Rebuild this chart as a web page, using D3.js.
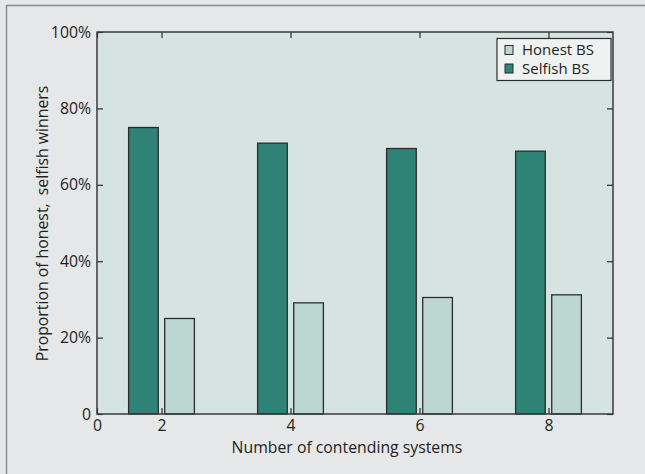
<!DOCTYPE html>
<html>
<head>
<meta charset="utf-8">
<script src="https://cdn.jsdelivr.net/npm/d3@7"></script>
<style>
  html, body { margin: 0; padding: 0; background: #e6e7e8; }
  svg { display: block; }
  text { font-family: "Open Sans", "Noto Sans", sans-serif; fill: #231f20; white-space: pre; }
</style>
</head>
<body>
<svg id="chart" width="645" height="474"></svg>
<script>
// ---- data ----
const categories = ["2", "4", "6", "8"];
const selfishValues = [75.0, 70.9, 69.5, 68.8];
const honestValues = [25.0, 29.1, 30.5, 31.2];
const seriesNames = ["Honest BS", "Selfish BS"];
const xTickLabels = ["0", "2", "4", "6", "8"];
const yTickValues = [0, 20, 40, 60, 80, 100];
const yTickLabels = ["0", "20%", "40%", "60%", "80%", "100%"];
const xTitle = "Number of contending systems";
const yTitle = "Proportion of honest,  selfish winners";

// ---- layout ----
const W = 645, H = 474;
const plot = { left: 97, right: 613, top: 32, bottom: 414 };
const colors = { bg: "#e6e7e8", plot: "#d5e4e1", selfish: "#2f8376", honest: "#bcd6d2", stroke: "#2b2b2b" };

const svg = d3.select("#chart");
svg.append("rect").attr("width", W).attr("height", H).attr("fill", colors.bg);
// outer frame (top and left edges)
svg.append("path")
  .attr("d", `M6.5,${H} V5.5 H${W}`)
  .attr("fill", "none").attr("stroke", "#8c8c8c").attr("stroke-width", 1.5);

// slot scale: group i sits at slot 2*i+1 ; label "0" at slot 0
const x = d3.scaleLinear().domain([0, 8]).range([plot.left, plot.right]);
const y = d3.scaleLinear().domain([0, 100]).range([plot.bottom, plot.top]);
const slotOf = i => 2 * i + 1;
const xTickSlots = [0].concat(categories.map((c, i) => slotOf(i)));

svg.append("rect")
  .attr("x", plot.left).attr("y", plot.top)
  .attr("width", plot.right - plot.left).attr("height", plot.bottom - plot.top)
  .attr("fill", colors.plot);

// bars
const barW = 0.46, gap = 0.05;
const g = svg.append("g");
g.selectAll("rect.selfish").data(selfishValues).join("rect")
  .attr("class", "selfish")
  .attr("x", (d, i) => x(slotOf(i) - gap - barW))
  .attr("width", (d, i) => x(slotOf(i) - gap) - x(slotOf(i) - gap - barW))
  .attr("y", d => y(d))
  .attr("height", d => y(0) - y(d))
  .attr("fill", colors.selfish).attr("stroke", colors.stroke).attr("stroke-width", 1.3);
g.selectAll("rect.honest").data(honestValues).join("rect")
  .attr("class", "honest")
  .attr("x", (d, i) => x(slotOf(i) + gap))
  .attr("width", (d, i) => x(slotOf(i) + gap + barW) - x(slotOf(i) + gap))
  .attr("y", d => y(d))
  .attr("height", d => y(0) - y(d))
  .attr("fill", colors.honest).attr("stroke", colors.stroke).attr("stroke-width", 1.3);

// axes
const fontSize = "15.8px";
const tickLen = 6;
const xAxis = d3.axisBottom(x).tickValues(xTickSlots)
  .tickFormat((d, i) => xTickLabels[i]).tickSize(-tickLen).tickPadding(6);
const yAxis = d3.axisLeft(y).tickValues(yTickValues)
  .tickFormat((d, i) => yTickLabels[i]).tickSize(-tickLen).tickPadding(6);
const xTop = d3.axisTop(x).tickValues(xTickSlots).tickFormat("").tickSize(-tickLen);
const yRight = d3.axisRight(y).tickValues(yTickValues).tickFormat("").tickSize(-tickLen);

function style(sel) {
  sel.select(".domain").attr("stroke", "none");
  sel.selectAll(".tick line").attr("stroke", colors.stroke).attr("stroke-width", 1.2);
  sel.selectAll(".tick text").attr("font-size", fontSize)
    .attr("font-family", "'Open Sans', 'Noto Sans', sans-serif").attr("fill", "#231f20");
}
svg.append("g").attr("transform", `translate(0,${plot.bottom})`).call(xAxis).call(style);
svg.append("g").attr("transform", `translate(${plot.left},0)`).call(yAxis).call(style);
svg.append("g").attr("transform", `translate(0,${plot.top})`).call(xTop).call(style);
svg.append("g").attr("transform", `translate(${plot.right},0)`).call(yRight).call(style);

// plot frame
svg.append("rect")
  .attr("x", plot.left).attr("y", plot.top)
  .attr("width", plot.right - plot.left).attr("height", plot.bottom - plot.top)
  .attr("fill", "none").attr("stroke", "#3a3a3a").attr("stroke-width", 1.5);

// titles
svg.append("text")
  .attr("x", 347).attr("y", 453)
  .attr("text-anchor", "middle").attr("font-size", fontSize).text(xTitle);
svg.append("text")
  .attr("transform", `translate(48,${(85 + 362) / 2}) rotate(-90)`)
  .attr("text-anchor", "middle").attr("font-size", fontSize).text(yTitle);

// legend
const lg = svg.append("g").attr("transform", "translate(497,38.5)");
lg.append("rect").attr("width", 114).attr("height", 42)
  .attr("fill", "#eef3f2").attr("stroke", "#2b2b2b").attr("stroke-width", 1.2);
const legendColors = [colors.honest, colors.selfish];
seriesNames.forEach((name, i) => {
  const cy = 11.5 + i * 18.5;
  lg.append("rect").attr("x", 8).attr("y", cy - 4.5).attr("width", 8).attr("height", 9)
    .attr("fill", legendColors[i]).attr("stroke", "#2b2b2b").attr("stroke-width", 1);
  lg.append("text").attr("x", 25).attr("y", cy + 5.4)
    .attr("font-family", "'Liberation Sans', Arial, sans-serif")
    .attr("font-size", "15px").text(name);
});
</script>
</body>
</html>
